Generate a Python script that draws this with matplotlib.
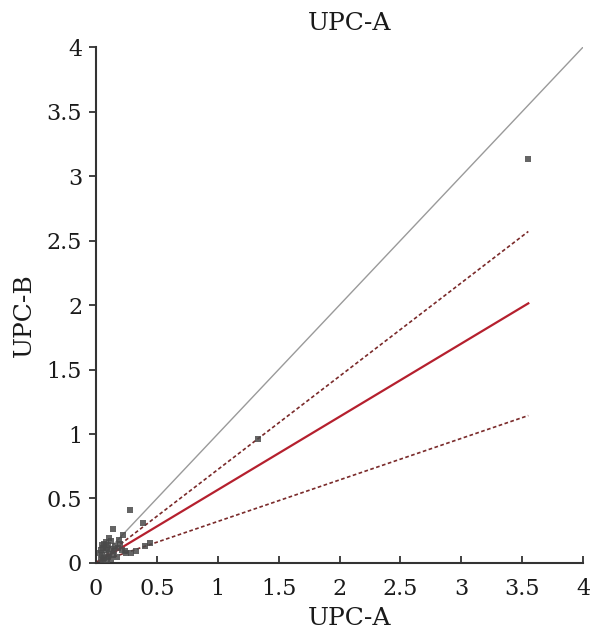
import matplotlib.pyplot as plt
import numpy as np
from matplotlib import rcParams

rcParams['font.family'] = ['DejaVu Serif']
rcParams['font.size'] = 16

# measured values (UPC-A vs UPC-B)
upc_a = [3.55, 1.33, 0.28, 0.39, 0.44, 0.40, 0.33, 0.25, 0.14, 0.22, 0.24,
         0.29, 0.17, 0.20, 0.18, 0.12, 0.10, 0.08, 0.06, 0.05, 0.04, 0.03,
         0.07, 0.09, 0.11, 0.13, 0.15, 0.16, 0.19, 0.05, 0.08, 0.10, 0.12,
         0.06, 0.14, 0.21, 0.09, 0.04, 0.07, 0.11]
upc_b = [3.13, 0.96, 0.41, 0.31, 0.155, 0.13, 0.09, 0.08, 0.26, 0.22, 0.09,
         0.08, 0.05, 0.15, 0.12, 0.17, 0.14, 0.10, 0.12, 0.06, 0.03, 0.08,
         0.04, 0.02, 0.07, 0.11, 0.09, 0.13, 0.18, 0.14, 0.16, 0.05, 0.03,
         0.02, 0.06, 0.10, 0.12, 0.10, 0.15, 0.19]

# regression slope and confidence band slopes (through origin)
fit_slope = 0.567
ci_upper = 0.724
ci_lower = 0.322

fig = plt.figure(figsize=(5.95, 6.36), dpi=100)
ax = fig.add_axes([0.1613, 0.1148, 0.8187, 0.8112])

ax.plot([0, 4], [0, 4], color='#9a9a9a', linewidth=1.0, zorder=1)

xs = np.array([0.0, max(upc_a)])
ax.plot(xs, fit_slope * xs, color='#b5202e', linewidth=1.6, zorder=2)
ax.plot(xs, ci_upper * xs, color='#7a2a2a', linewidth=1.2, linestyle=(0, (2.2, 1.5)), zorder=2)
ax.plot(xs, ci_lower * xs, color='#7a2a2a', linewidth=1.2, linestyle=(0, (2.2, 1.5)), zorder=2)

ax.scatter(upc_a, upc_b, marker='s', s=22, color='#4a4a4a', alpha=0.85,
           linewidths=0, zorder=3, clip_on=False)

ax.set_xlim(0, 4)
ax.set_ylim(0, 4)
ticks = [0, 0.5, 1, 1.5, 2, 2.5, 3, 3.5, 4]
labels = ['0', '0.5', '1', '1.5', '2', '2.5', '3', '3.5', '4']
ax.set_xticks(ticks)
ax.set_xticklabels(labels)
ax.set_yticks(ticks)
ax.set_yticklabels(labels)

ax.spines['top'].set_visible(False)
ax.spines['right'].set_visible(False)
for s in ['left', 'bottom']:
    ax.spines[s].set_color('#333333')
    ax.spines[s].set_linewidth(1.5)

ax.tick_params(axis='x', direction='in', length=5, width=1.3, color='#333333',
               pad=11, labelsize=16, labelcolor='#1a1a1a')
ax.tick_params(axis='y', direction='out', length=5, width=1.3, color='#333333',
               pad=5, labelsize=16, labelcolor='#1a1a1a')

ax.set_title('UPC-A', fontsize=18, pad=12, x=0.52, color='#1a1a1a')
ax.set_xlabel('UPC-A', fontsize=18, color='#1a1a1a')
ax.xaxis.set_label_coords(0.52, -0.085)
ax.set_ylabel('UPC-B', fontsize=18, color='#1a1a1a')
ax.yaxis.set_label_coords(-0.123, 0.48)

fig.savefig('out.png', dpi=100)
